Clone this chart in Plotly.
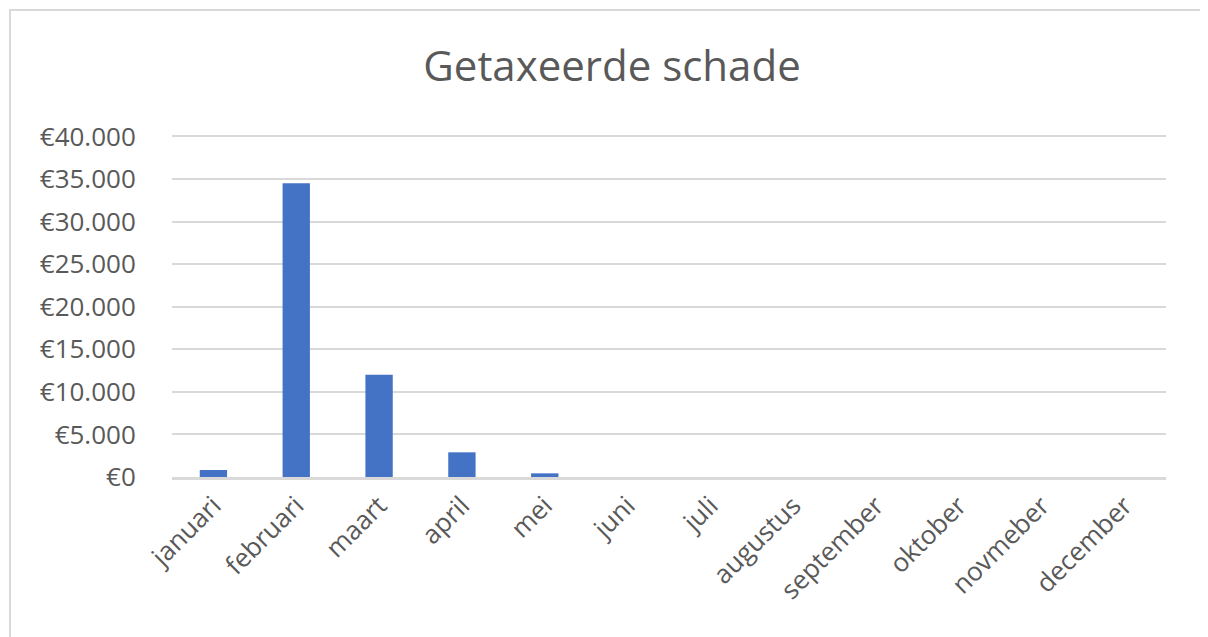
import plotly.graph_objects as go

months = ["januari", "februari", "maart", "april", "mei", "juni", "juli",
          "augustus", "september", "oktober", "novmeber", "december"]
values = [820, 34500, 12000, 2900, 430, 0, 0, 0, 0, 0, 0, 0]
tick_vals = [0, 5000, 10000, 15000, 20000, 25000, 30000, 35000, 40000]
tick_text = ["€0", "€5.000", "€10.000", "€15.000", "€20.000", "€25.000", "€30.000", "€35.000", "€40.000"]

fig = go.Figure(go.Bar(x=months, y=values, marker=dict(color="#4472C4", line=dict(width=0)), width=0.33))

font_family = "Open Sans, Liberation Sans, sans-serif"
fig.update_layout(
    width=1208, height=637,
    margin=dict(l=164, r=50, t=125, b=168),
    paper_bgcolor="white", plot_bgcolor="white",
    title=dict(text="Getaxeerde schade", x=0.5, xanchor="center", y=1 - 58/637, yanchor="middle",
               font=dict(family=font_family, size=42, color="#595959")),
    xaxis=dict(tickangle=-45, tickfont=dict(family=font_family, size=26, color="#595959"),
               showgrid=False, showline=True, linecolor="#d9d9d9", linewidth=3, ticks=""),
    yaxis=dict(range=[0, 40400], tickvals=tick_vals, ticktext=tick_text,
               tickfont=dict(family=font_family, size=26, color="#595959"),
               showgrid=True, gridcolor="#d9d9d9", gridwidth=2, zeroline=False,
               showline=False, ticks="outside", ticklen=30, tickcolor="white"),
    showlegend=False, bargap=0.67,
    shapes=[dict(type="rect", xref="paper", yref="paper", x0=-162/994, x1=1+37/994,
                 y0=-0.5, y1=1+123/344, line=dict(color="#d9d9d9", width=2))],
)
fig.write_html("out.html")
